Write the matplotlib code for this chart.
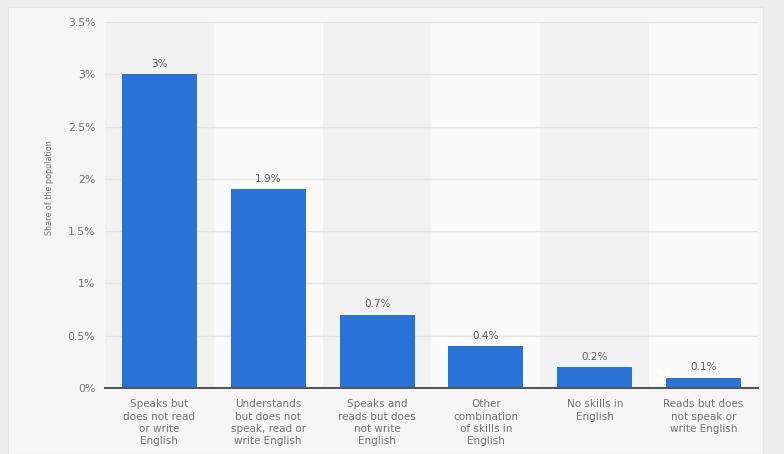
import matplotlib
matplotlib.use("Agg")
import matplotlib.pyplot as plt

categories = [
    "Speaks but\ndoes not read\nor write\nEnglish",
    "Understands\nbut does not\nspeak, read or\nwrite English",
    "Speaks and\nreads but does\nnot write\nEnglish",
    "Other\ncombination\nof skills in\nEnglish",
    "No skills in\nEnglish",
    "Reads but does\nnot speak or\nwrite English",
]
values = [3.0, 1.9, 0.7, 0.4, 0.2, 0.1]
value_labels = ["3%", "1.9%", "0.7%", "0.4%", "0.2%", "0.1%"]
y_ticks = [0, 0.5, 1, 1.5, 2, 2.5, 3, 3.5]
y_tick_labels = ["0%", "0.5%", "1%", "1.5%", "2%", "2.5%", "3%", "3.5%"]

plt.rcParams["font.family"] = ["DejaVu Sans"]
text_color = "#727272"

fig = plt.figure(figsize=(7.84, 4.54), dpi=100)
fig.patch.set_facecolor("#eeeeee")

# card behind the chart
card = fig.add_axes([8 / 784, 0, (763 - 8) / 784, (454 - 7) / 454], zorder=0)
card.set_facecolor("#f6f6f6")
card.set_xticks([])
card.set_yticks([])
for s in card.spines.values():
    s.set_color("#e6e6e6")

ax = fig.add_axes([105 / 784, 1 - 388 / 454, (758 - 105) / 784, (388 - 22) / 454],
                  zorder=1)
ax.set_facecolor("none")

x = list(range(len(values)))
# alternating column shading
for i in x:
    ax.axvspan(i - 0.5, i + 0.5, color="#f2f2f2" if i % 2 == 0 else "#fafafa",
               zorder=0, linewidth=0)

for t in y_ticks[1:]:
    ax.axhline(t, color="#e4e4e4", linewidth=1, zorder=1)

bars = ax.bar(x, values, width=0.69, color="#2872d8", zorder=2)
for rect, lab in zip(bars, value_labels):
    ax.annotate(lab, (rect.get_x() + rect.get_width() / 2, rect.get_height()),
                xytext=(0, 4), textcoords="offset points", ha="center",
                va="bottom", fontsize=7.5, color="#5a5a5a")

ax.set_xlim(-0.5, len(values) - 0.5)
ax.set_ylim(0, 3.5)
ax.set_yticks(y_ticks)
ax.set_yticklabels(y_tick_labels)
ax.set_xticks(x)
ax.set_xticklabels(categories, fontsize=7.5, color=text_color, linespacing=1.3)
ax.tick_params(axis="y", length=0, pad=7, labelsize=7.8, labelcolor=text_color)
ax.tick_params(axis="x", length=0, pad=8)

for side in ["top", "right", "left"]:
    ax.spines[side].set_visible(False)
ax.spines["bottom"].set_color("#555555")
ax.spines["bottom"].set_linewidth(1.5)
ax.spines["bottom"].set_zorder(3)

fig.text(50 / 784, 1 - 188 / 454, "Share of the population", rotation=90,
         ha="center", va="center", fontsize=5.8, color=text_color, zorder=2)

fig.savefig("out.png", dpi=100, facecolor=fig.get_facecolor())
